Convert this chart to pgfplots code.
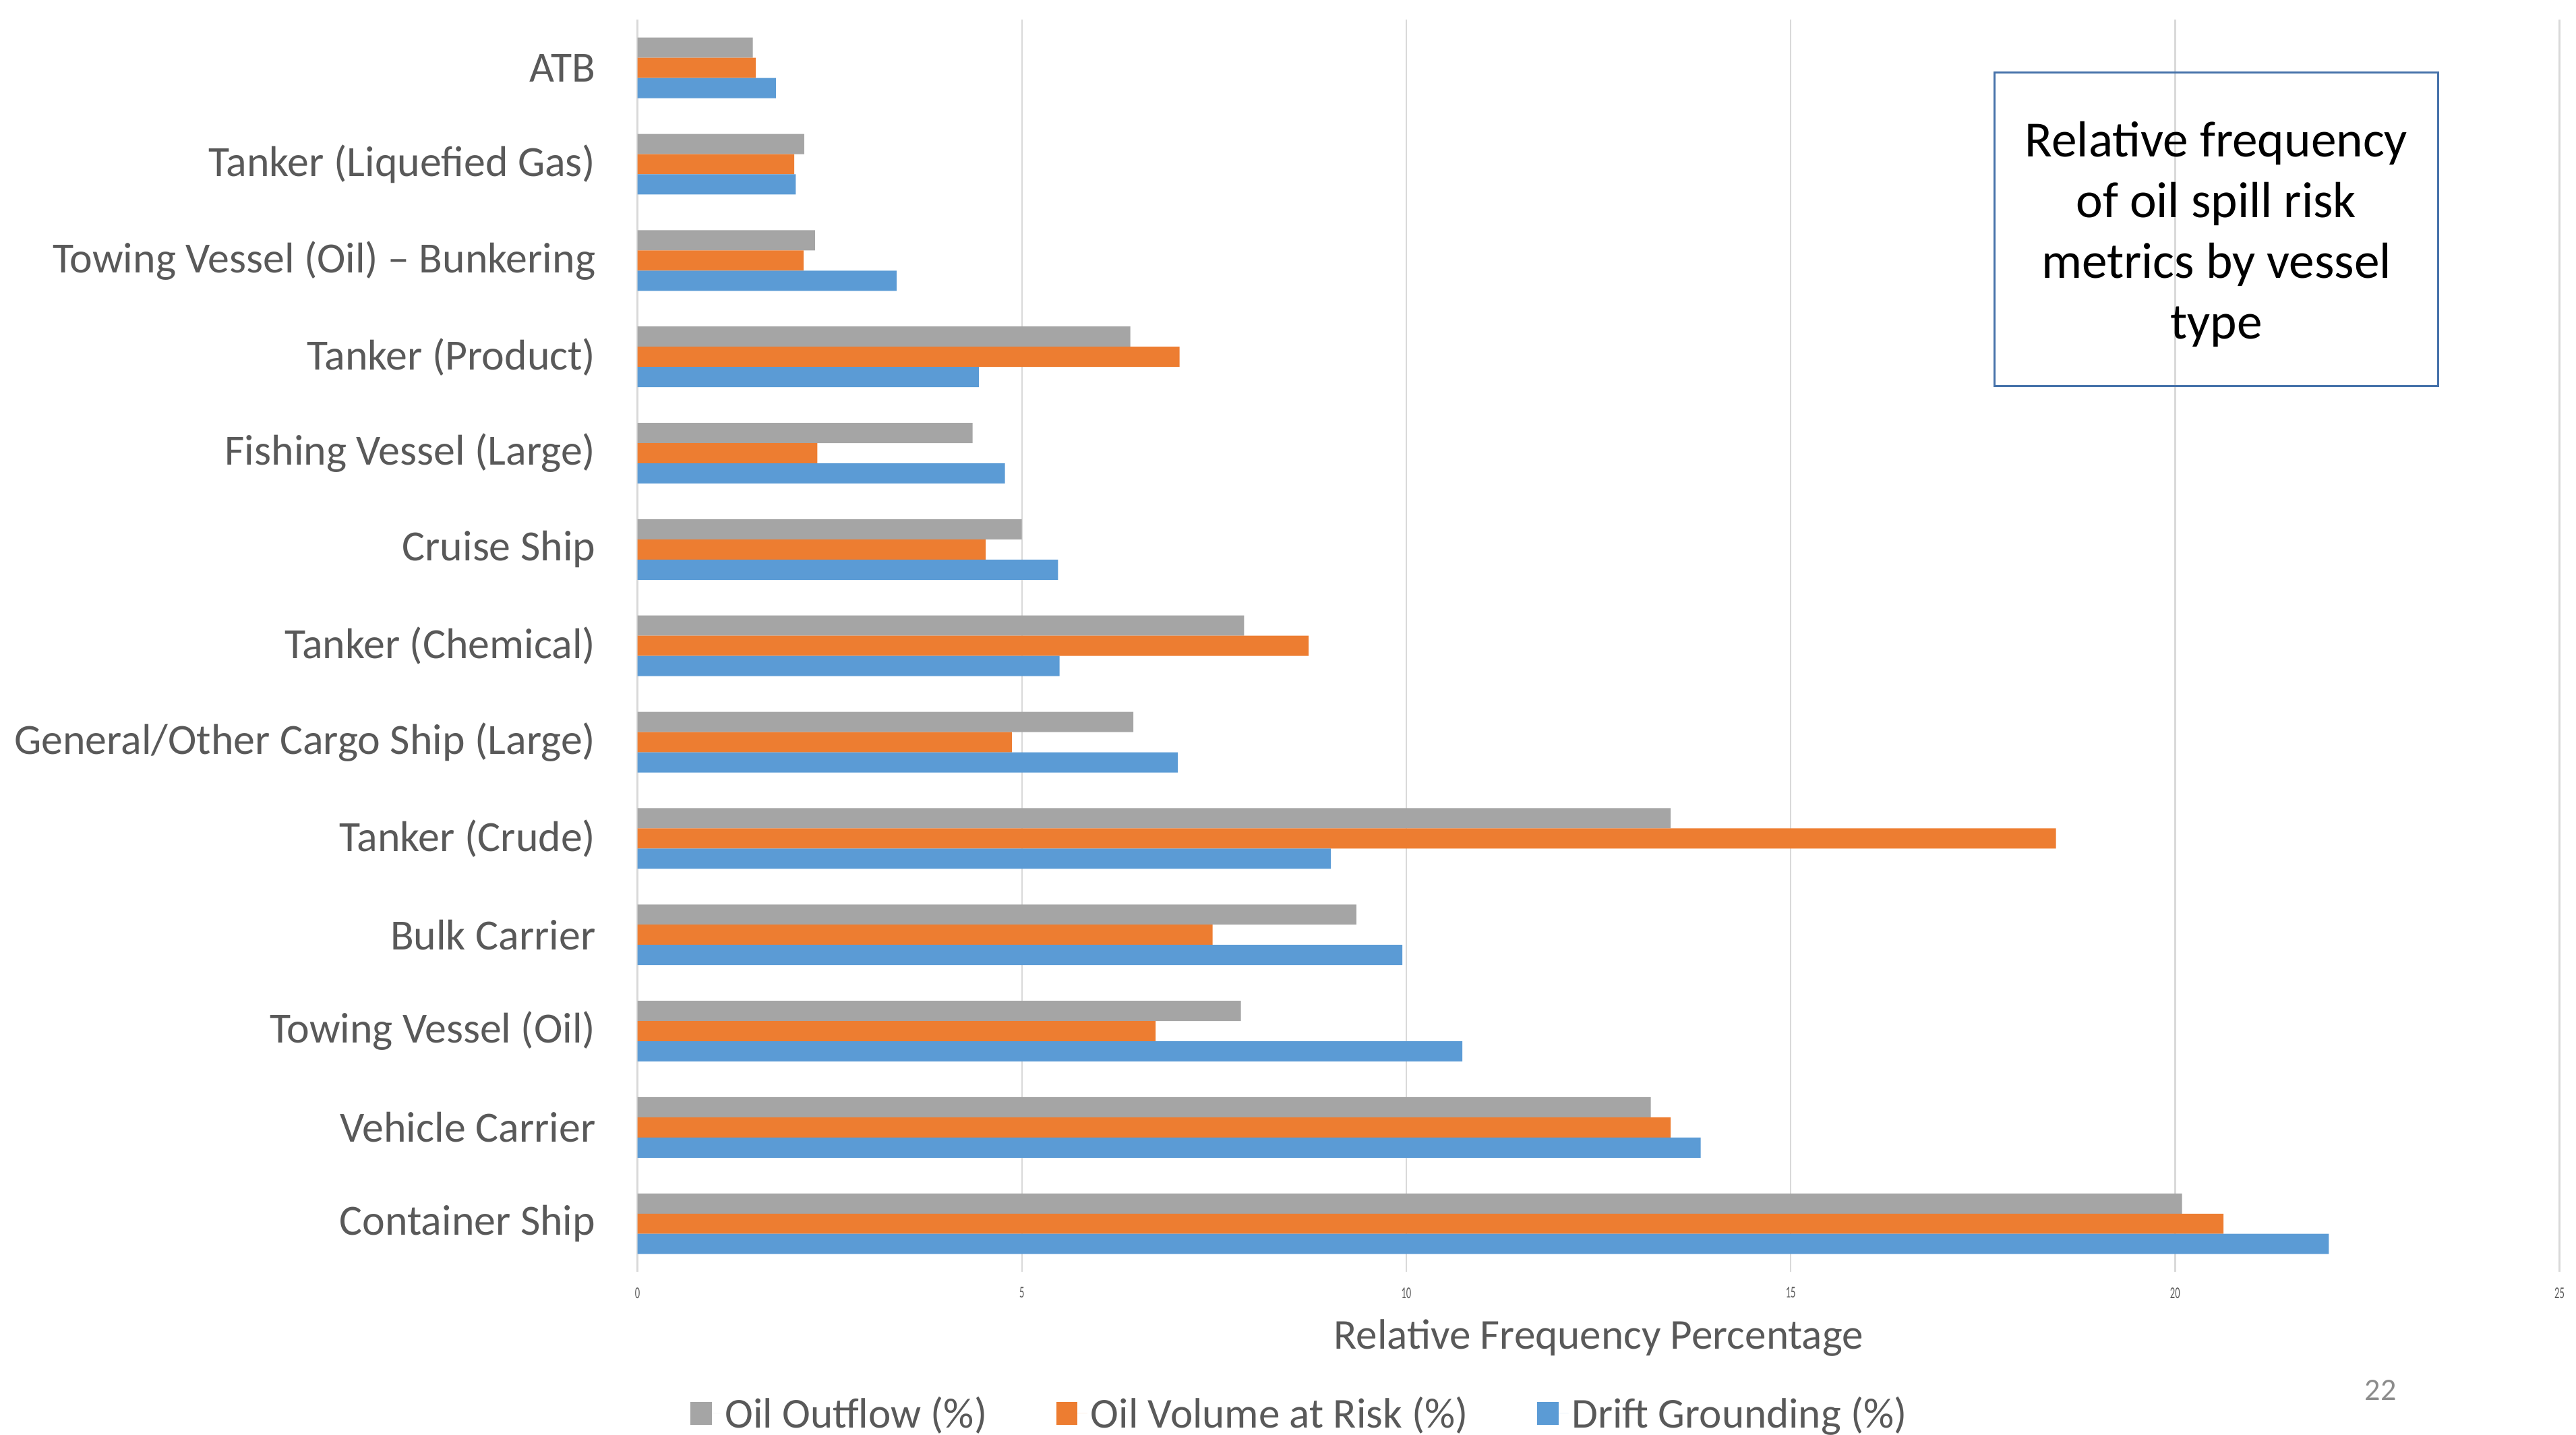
\documentclass[border=0pt]{standalone}
\usepackage{fontspec}
\setmainfont{Carlito}
\usepackage{pgfplots}
\pgfplotsset{compat=1.18}
\definecolor{cgray}{HTML}{A5A5A5}
\definecolor{corange}{HTML}{ED7D31}
\definecolor{cblue}{HTML}{5B9BD5}
\definecolor{ctext}{HTML}{595959}
\definecolor{cgrid}{HTML}{D9D9D9}
\definecolor{cbox}{HTML}{4672AA}
\definecolor{cpage}{HTML}{8C8C8C}
\begin{document}
\begin{tikzpicture}
\useasboundingbox (0,0) rectangle (1568bp,-873bp);
\begin{axis}[
  at={(388bp,-774bp)}, anchor=south west,
  scale only axis, width=1170bp, height=762bp,
  xbar, bar width=12.3bp,
  xmin=0, xmax=25, ymin=-0.5, ymax=12.5,
  xtick={0,5,10,15,20,25},
  ytick={0,...,12},
  yticklabels={Container Ship, Vehicle Carrier, Towing Vessel (Oil), Bulk Carrier, Tanker (Crude), General/Other Cargo Ship (Large), Tanker (Chemical), Cruise Ship, Fishing Vessel (Large), Tanker (Product), Towing Vessel (Oil) – Bunkering, Tanker (Liquefied Gas), ATB},
  axis line style={draw=none},
  major tick length=0pt,
  xmajorgrids, major grid style={cgrid, line width=1bp},
  /pgf/number format/assume math mode=true,
  yticklabel style={font=\fontsize{26.3}{30}\selectfont, text=ctext, xshift=-22bp},
  xticklabel style={font=\fontsize{10}{12}\selectfont, text=ctext, xscale=0.6, yshift=-6bp},
  xlabel={Relative Frequency Percentage},
  xlabel style={font=\fontsize{26}{30}\selectfont, text=ctext, at={(axis description cs:0.5,-0.0525)}, anchor=center},
  legend columns=3,
  legend style={at={(0.3449,-0.1129)}, anchor=center, draw=none, fill=none,
    font=\fontsize{26}{30}\selectfont, text=ctext,
    /tikz/every even column/.append style={column sep=40bp}},
  legend image code/.code={\path (0bp,0bp) -- (19bp,0bp); \draw[#1, draw=none] (0bp,-7bp) rectangle (13bp,7bp);},
]
\addplot[fill=cgray, draw=none, bar shift=12.3bp] coordinates {
(20.09,0) (13.18,1) (7.85,2) (9.35,3) (13.44,4) (6.45,5) (7.89,6) (5.00,7) (4.36,8) (6.41,9) (2.31,10) (2.17,11) (1.50,12)};
\addlegendentry{Oil Outflow (\%)}
\addplot[fill=corange, draw=none, bar shift=0bp] coordinates {
(20.63,0) (13.44,1) (6.74,2) (7.48,3) (18.45,4) (4.87,5) (8.73,6) (4.53,7) (2.34,8) (7.05,9) (2.16,10) (2.04,11) (1.54,12)};
\addlegendentry{Oil Volume at Risk (\%)}
\addplot[fill=cblue, draw=none, bar shift=-12.3bp] coordinates {
(22.00,0) (13.83,1) (10.73,2) (9.95,3) (9.02,4) (7.03,5) (5.49,6) (5.47,7) (4.78,8) (4.44,9) (3.37,10) (2.06,11) (1.80,12)};
\addlegendentry{Drift Grounding (\%)}
\end{axis}
\draw[cbox, line width=1.3bp] (1214bp,-44bp) rectangle (1484bp,-235bp);
\node[align=center, font=\fontsize{31}{37}\selectfont, text=black] at (1349bp,-142.5bp) {Relative frequency\\of oil spill risk\\metrics by vessel\\type};
\node[text=cpage, font=\fontsize{19}{22}\selectfont] at (1449bp,-846bp) {22};
\end{tikzpicture}
\end{document}
